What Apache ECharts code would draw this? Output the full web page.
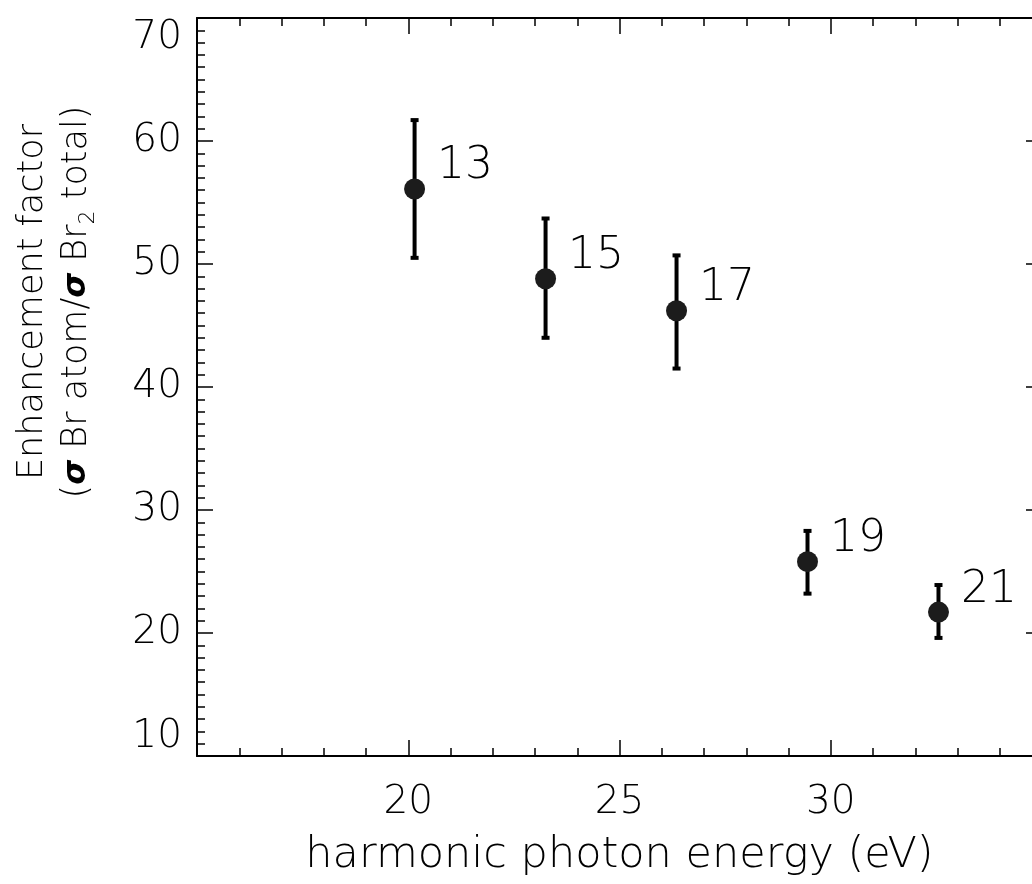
<!DOCTYPE html>
<html>
<head>
<meta charset="utf-8">
<script src="https://cdn.jsdelivr.net/npm/echarts@6/dist/echarts.min.js"></script>
<style>
  html, body { margin: 0; padding: 0; background: #fff; }
  #main { width: 1032px; height: 884px; }
</style>
</head>
<body>
<div id="main"></div>
<script>
// harmonic orders and their photon energies (eV)
var harmonics = ['13', '15', '17', '19', '21']
var energy = [20.15, 23.25, 26.35, 29.45, 32.55]
// enhancement factor with error bar ends
var factor = [56.1, 48.8, 46.2, 25.8, 21.7]
var errLow = [50.5, 44.0, 41.5, 23.2, 19.6]
var errHigh = [61.7, 53.7, 50.7, 28.3, 23.9]
// ticks
var xTicks = [20, 25, 30]

var font = 'DejaVu Sans'
var fw = 200
var ink = '#000'

var points = energy.map(function (e, i) { return [e, factor[i], harmonics[i]] })
var bars = energy.map(function (e, i) { return [e, errLow[i], errHigh[i]] })

function axisBase(extra) {
  var a = {
    axisLine: { onZero: false, lineStyle: { color: '#000', width: 2 } },
    axisTick: { inside: true, length: 16, lineStyle: { color: '#000', width: 1.5 } },
    splitLine: { show: false },
    minorSplitLine: { show: false }
  }
  return Object.assign(a, extra)
}

var myChart = echarts.init(document.getElementById('main'))

var option = {
  backgroundColor: '#fff',
  animation: false,
  grid: { left: 197, top: 18, width: 845, bottom: 128, outerBoundsMode: 'none' },
  xAxis: [
    axisBase({
      type: 'value', min: 15, max: 35, interval: 5, position: 'bottom',
      minorTick: { show: true, splitNumber: 5, length: 8, lineStyle: { color: '#000', width: 1.5 } },
      axisLabel: {
        margin: 27, fontFamily: font, fontWeight: fw, fontSize: 39, color: ink,
        formatter: function (v) { return xTicks.indexOf(v) >= 0 ? String(v) : '' }
      },
      name: 'harmonic photon energy (eV)',
      nameLocation: 'middle',
      nameGap: 78,
      nameTextStyle: { fontFamily: font, fontWeight: fw, fontSize: 43, color: ink }
    }),
    axisBase({
      type: 'value', min: 15, max: 35, interval: 5, position: 'top',
      minorTick: { show: true, splitNumber: 5, length: 8, lineStyle: { color: '#000', width: 1.5 } },
      axisLabel: { show: false }
    })
  ],
  yAxis: [
    axisBase({
      type: 'value', min: 10, max: 70, interval: 10, position: 'left',
      minorTick: { show: true, splitNumber: 10, length: 8, lineStyle: { color: '#000', width: 1.5 } },
      axisLabel: {
        margin: 15, fontFamily: font, fontWeight: fw, fontSize: 39, color: ink,
        verticalAlignMinLabel: 'bottom', verticalAlignMaxLabel: 'top'
      }
    }),
    axisBase({
      type: 'value', min: 10, max: 70, interval: 10, position: 'right',
      minorTick: { show: true, splitNumber: 10, length: 8, lineStyle: { color: '#000', width: 1.5 } },
      axisLabel: { show: false }
    })
  ],
  graphic: [{
    type: 'text',
    x: 55,
    y: 302,
    rotation: Math.PI / 2,
    style: {
      text: '{t|Enhancement factor}\n{t|(}{s|σ}{t| Br atom/}{s|σ}{t| Br}{sub|2}{t| total)}',
      align: 'center',
      verticalAlign: 'middle',
      fill: ink,
      rich: {
        t: { fontFamily: font, fontWeight: fw, fontSize: 35, lineHeight: 44, fill: ink },
        s: { fontFamily: 'DejaVu Sans', fontWeight: 'bold', fontStyle: 'italic', fontSize: 32, lineHeight: 44, fill: ink },
        sub: { fontFamily: font, fontWeight: fw, fontSize: 22, lineHeight: 44, verticalAlign: 'bottom', fill: ink }
      }
    }
  }],
  series: [
    {
      type: 'custom',
      data: bars,
      z: 3,
      renderItem: function (params, api) {
        var x = api.value(0)
        var lo = api.coord([x, api.value(1)])
        var hi = api.coord([x, api.value(2)])
        var cap = 4
        var st = { stroke: '#000', lineWidth: 4 }
        return {
          type: 'group',
          children: [
            { type: 'line', shape: { x1: lo[0], y1: lo[1], x2: hi[0], y2: hi[1] }, style: st },
            { type: 'line', shape: { x1: lo[0] - cap, y1: lo[1], x2: lo[0] + cap, y2: lo[1] }, style: st },
            { type: 'line', shape: { x1: hi[0] - cap, y1: hi[1], x2: hi[0] + cap, y2: hi[1] }, style: st }
          ]
        }
      }
    },
    {
      type: 'scatter',
      data: points,
      symbol: 'circle',
      symbolSize: 21,
      z: 4,
      itemStyle: { color: '#1c1c1c', opacity: 1 },
      label: {
        show: true,
        position: 'right',
        distance: 12,
        offset: [0, -22],
        fontFamily: font,
        fontWeight: fw,
        fontSize: 44,
        color: ink,
        formatter: function (p) { return p.data[2] }
      }
    }
  ]
}

myChart.setOption(option)
</script>
</body>
</html>
